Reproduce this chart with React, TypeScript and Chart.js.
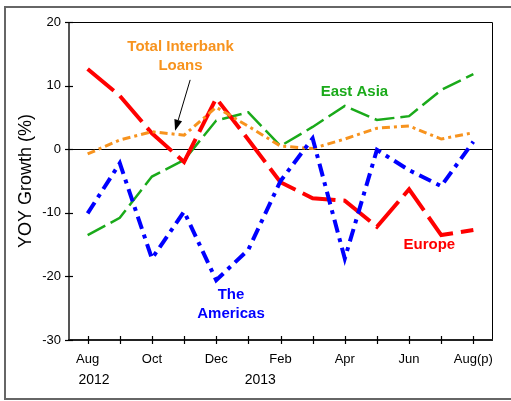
import React, { useEffect, useRef } from "react";
import { Chart, registerables } from "chart.js";
Chart.register(...registerables);

const months = ["Aug", "Sep", "Oct", "Nov", "Dec", "Jan", "Feb", "Mar", "Apr", "May", "Jun", "Jul", "Aug(p)"];
const xTickLabels = ["Aug", "", "Oct", "", "Dec", "", "Feb", "", "Apr", "", "Jun", "", "Aug(p)"];
const yTicks = [-30, -20, -10, 0, 10, 20];
const yearLabels = [
  { text: "2012", at: 0.2 },
  { text: "2013", at: 5.37 },
];

const americas = [-10.1, -2.2, -17.2, -9.8, -20.6, -15.8, -5.0, 1.7, -17.2, -0.1, -3.3, -5.8, 1.2];
const interbank = [-0.75, 1.45, 2.75, 2.2, 6.6, 3.6, 0.5, 0.1, 1.6, 3.3, 3.65, 1.6, 2.6];
const europe = [12.6, 8.4, 2.5, -2.0, 8.0, 1.5, -5.2, -7.7, -8.1, -12.2, -6.3, -13.5, -12.7];
const eastAsia = [-13.5, -10.8, -4.3, -1.7, 4.5, 5.8, 0.5, 3.5, 6.8, 4.6, 5.2, 9.3, 11.8];

const RED = "#ff0000";
const BLUE = "#0000ff";
const GREEN = "#1aaa1a";
const ORANGE = "#f7931e";
const FONT = "'Liberation Sans', Arial, Helvetica, sans-serif";

const annotations = [
  { text: "Total Interbank", x: 2.89, y: 16.1, color: ORANGE },
  { text: "Loans", x: 2.89, y: 13.1, color: ORANGE },
  { text: "East Asia", x: 8.3, y: 9.0, color: GREEN },
  { text: "The", x: 4.46, y: -22.9, color: BLUE },
  { text: "Americas", x: 4.46, y: -25.9, color: BLUE },
  { text: "Europe", x: 10.63, y: -15.1, color: RED },
];
const arrow = { fromX: 3.19, fromY: 10.9, toX: 2.72, toY: 2.9 };

export default function App() {
  const ref = useRef<HTMLCanvasElement>(null);
  useEffect(() => {
    if (!ref.current) return;
    const toPts = (arr: number[]) => arr.map((y, i) => ({ x: i, y }));
    const deco = {
      id: "deco",
      beforeDraw(chart: any) {
        const ctx = chart.ctx;
        ctx.save();
        ctx.fillStyle = "#fff";
        ctx.fillRect(0, 0, chart.width, chart.height);
        ctx.restore();
      },
      beforeDatasetsDraw(chart: any) {
        const ctx = chart.ctx;
        const { left, right, top, bottom } = chart.chartArea;
        const xs = chart.scales.x;
        const ys = chart.scales.y;
        ctx.save();
        // outer frame
        ctx.strokeStyle = "#666";
        ctx.lineWidth = 2;
        ctx.strokeRect(5, 7, 512, 392);
        // zero line
        ctx.strokeStyle = "#000";
        ctx.lineWidth = 1;
        const y0 = Math.round(ys.getPixelForValue(0)) + 0.5;
        ctx.beginPath();
        ctx.moveTo(left, y0);
        ctx.lineTo(right, y0);
        ctx.stroke();
        // top & right border
        ctx.beginPath();
        ctx.moveTo(left, top + 0.5);
        ctx.lineTo(right + 0.5, top + 0.5);
        ctx.lineTo(right + 0.5, bottom);
        ctx.stroke();
        // left axis
        ctx.strokeStyle = "#555";
        ctx.lineWidth = 2;
        ctx.beginPath();
        ctx.moveTo(left, top);
        ctx.lineTo(left, bottom + 1);
        ctx.stroke();
        // bottom axis
        ctx.strokeStyle = "#222";
        ctx.beginPath();
        ctx.moveTo(left - 1, bottom);
        ctx.lineTo(right + 1, bottom);
        ctx.stroke();
        // ticks
        ctx.lineWidth = 1.2;
        ctx.strokeStyle = "#000";
        months.forEach((_, i) => {
          const px = Math.round(xs.getPixelForValue(i)) + 0.5;
          ctx.beginPath();
          ctx.moveTo(px, bottom - 4);
          ctx.lineTo(px, bottom + 4);
          ctx.stroke();
        });
        yTicks.forEach((v) => {
          const py = Math.round(ys.getPixelForValue(v)) + 0.5;
          ctx.beginPath();
          ctx.moveTo(left - 4, py);
          ctx.lineTo(left + 4, py);
          ctx.stroke();
        });
        ctx.restore();
      },
      afterDraw(chart: any) {
        const ctx = chart.ctx;
        const xs = chart.scales.x;
        const ys = chart.scales.y;
        ctx.save();
        // years
        ctx.fillStyle = "#000";
        ctx.font = `14px ${FONT}`;
        ctx.textAlign = "center";
        ctx.textBaseline = "middle";
        yearLabels.forEach((yl) => {
          ctx.fillText(yl.text, xs.getPixelForValue(yl.at), 380);
        });
        // annotations
        ctx.font = `bold 15px ${FONT}`;
        annotations.forEach((a) => {
          ctx.fillStyle = a.color;
          ctx.fillText(a.text, xs.getPixelForValue(a.x), ys.getPixelForValue(a.y));
        });
        // arrow
        const x1 = xs.getPixelForValue(arrow.fromX);
        const y1 = ys.getPixelForValue(arrow.fromY);
        const x2 = xs.getPixelForValue(arrow.toX);
        const y2 = ys.getPixelForValue(arrow.toY);
        const ang = Math.atan2(y2 - y1, x2 - x1);
        const hl = 11;
        const hw = 4;
        ctx.strokeStyle = "#000";
        ctx.fillStyle = "#000";
        ctx.lineWidth = 1;
        ctx.beginPath();
        ctx.moveTo(x1, y1);
        ctx.lineTo(x2 - Math.cos(ang) * hl, y2 - Math.sin(ang) * hl);
        ctx.stroke();
        const bx = x2 - Math.cos(ang) * hl;
        const by = y2 - Math.sin(ang) * hl;
        ctx.beginPath();
        ctx.moveTo(x2, y2);
        ctx.lineTo(bx + Math.sin(ang) * hw, by - Math.cos(ang) * hw);
        ctx.lineTo(bx - Math.sin(ang) * hw, by + Math.cos(ang) * hw);
        ctx.closePath();
        ctx.fill();
        ctx.restore();
      },
    };

    const chart = new Chart(ref.current, {
      type: "line",
      data: {
        datasets: [
          {
            label: "The Americas",
            data: toPts(americas),
            borderColor: BLUE,
            borderWidth: 4,
            borderDash: [13, 6, 4, 6],
            pointRadius: 0,
            tension: 0,
          },
          {
            label: "Total Interbank Loans",
            data: toPts(interbank),
            borderColor: ORANGE,
            borderWidth: 3,
            borderDash: [8, 4, 3, 4],
            pointRadius: 0,
            tension: 0,
          },
          {
            label: "Europe",
            data: toPts(europe),
            borderColor: RED,
            borderWidth: 4,
            borderDash: [34, 8],
            pointRadius: 0,
            tension: 0,
          },
          {
            label: "East Asia",
            data: toPts(eastAsia),
            borderColor: GREEN,
            borderWidth: 2.5,
            borderDash: [20, 6],
            pointRadius: 0,
            tension: 0,
          },
        ],
      },
      options: {
        responsive: false,
        animation: false,
        events: [],
        layout: { padding: { top: 22, right: 19, left: 0, bottom: 0 } },
        plugins: { legend: { display: false }, tooltip: { enabled: false }, title: { display: false } },
        scales: {
          x: {
            type: "linear",
            min: -0.58,
            max: 12.58,
            grid: { display: false, drawTicks: false },
            border: { display: false },
            afterFit: (s: any) => {
              s.height = 61;
            },
            ticks: {
              stepSize: 1,
              includeBounds: false,
              autoSkip: false,
              maxRotation: 0,
              padding: 12,
              color: "#000",
              font: { size: 13, family: FONT },
              callback: (v: any) => {
                const i = Math.round(Number(v));
                return Math.abs(Number(v) - i) < 1e-6 && i >= 0 && i < xTickLabels.length ? xTickLabels[i] : "";
              },
            },
          },
          y: {
            min: -30,
            max: 20,
            grid: { display: false, drawTicks: false },
            border: { display: false },
            afterFit: (s: any) => {
              s.width = 69;
            },
            ticks: {
              stepSize: 10,
              padding: 8,
              color: "#000",
              font: { size: 13, family: FONT },
            },
            title: {
              display: true,
              text: "YOY Growth (%)",
              color: "#000",
              font: { size: 18, family: FONT },
              padding: { top: 15, bottom: 0 },
            },
          },
        },
      },
      plugins: [deco],
    });
    return () => chart.destroy();
  }, []);
  return (
    <div style={{ position: "fixed", left: 0, top: 0, width: 511, height: 401 }}>
      <canvas ref={ref} width={511} height={401} style={{ display: "block" }} />
    </div>
  );
}
